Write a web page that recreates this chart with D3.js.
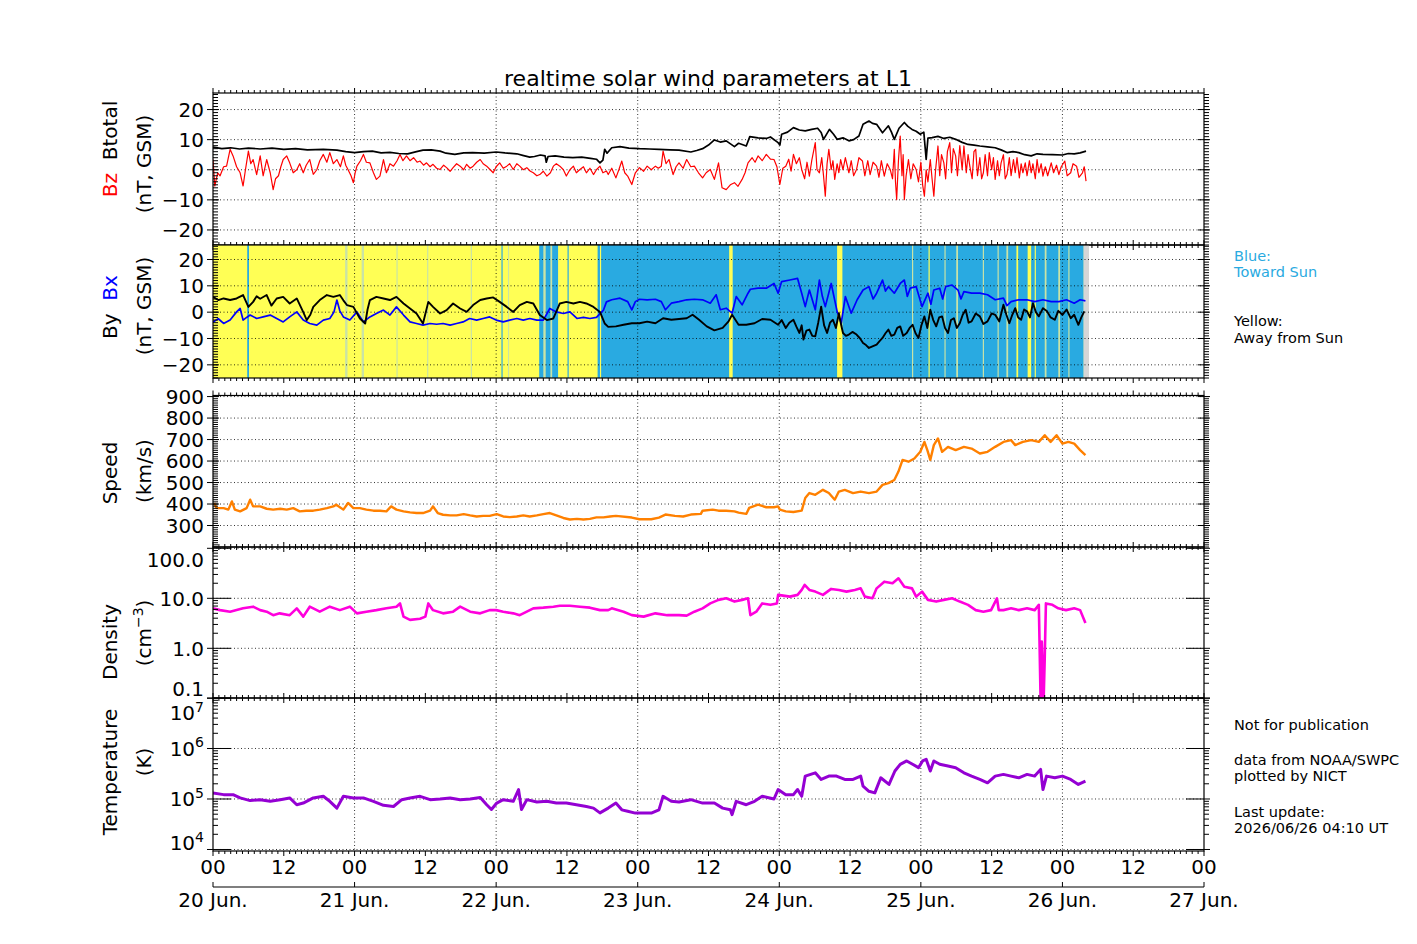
<!DOCTYPE html>
<html>
<head>
<meta charset="utf-8">
<script src="https://cdn.jsdelivr.net/npm/d3@7"></script>
<style>
  body { margin: 0; background: #fff; }
  text { font-family: "DejaVu Sans", sans-serif; }
</style>
</head>
<body>
<svg id="chart" width="1417" height="944"></svg>
<script>
// time of each sample is in hours after 2026-06-20 00:00 UT
var btotal = [[0,7.5],[1.5,7.0],[3,7.3],[4.5,6.9],[6,7.2],[8,6.9],[10,7.2],[12,6.8],[14,7.0],[16,6.6],[18.7,6.8],[21,6.5],[22.5,6.0],[24,5.7],[25.5,6.0],[27,6.2],[28.5,5.6],[30,5.8],[31.5,5.4],[33,5.3],[34.5,6.0],[35.6,6.5],[37,6.6],[38.5,6.2],[39.5,5.5],[41,5.1],[42.5,5.6],[44,5.7],[46,5.5],[48,5.9],[49.5,5.6],[51.5,5.3],[52.5,4.8],[53.7,4.2],[54.5,4.4],[55.5,4.9],[56.3,4.6],[56.5,2.5],[56.8,4.4],[58,4.6],[59.5,4.2],[61,4.0],[62.5,4.2],[64,3.8],[65,3.5],[65.6,2.3],[66.1,3.2],[66.4,6.8],[66.8,5.5],[67.6,7.3],[69,7.7],[70.5,7.2],[72.3,7.0],[74,6.9],[75.6,6.8],[77.5,6.6],[79,6.5],[81,5.9],[82,6.4],[83,7.0],[84,8.2],[85,9.9],[86,9.2],[87,9.6],[88.4,7.7],[89.1,8.8],[89.7,8.4],[90.4,7.9],[91,11],[92.4,10.6],[93.8,10.4],[94.5,10.9],[95.8,9],[96.1,8.2],[96.4,11.8],[97.4,12.5],[98.4,14],[99.4,13.2],[100.4,12.9],[101.5,13.4],[102.5,13.8],[103.1,12.4],[103.5,10.1],[104.5,13.4],[105.2,11.8],[105.8,10.1],[106.8,10.6],[107.8,9.6],[108.6,10.0],[109.5,11.2],[110.2,15.1],[111.2,16.2],[111.8,15.4],[112.5,15.1],[113.5,12.3],[114.5,14.6],[115,12.6],[115.5,10.1],[116.3,13.8],[117.2,15.7],[117.8,14.4],[118.5,13.4],[119.2,12.8],[119.9,11.8],[120.5,12.5],[120.9,3.4],[121.2,10.5],[121.9,10.7],[122.9,11.1],[123.9,10.4],[124.9,10.8],[125.9,10.1],[127,9.1],[128,8.4],[129,8.2],[130,7.9],[131.3,7.6],[132.6,7.3],[133.6,6.6],[134.6,5.7],[135.6,6.0],[136.6,5.7],[137.6,5.0],[138.7,4.6],[139.7,5.3],[140.7,5.1],[142.3,5.0],[144,4.9],[145,5.4],[146,5.3],[147,5.6],[148,6.2]];

var bz = [[0,3.4],[0.3,-5.4],[0.8,-1],[1.2,-2],[1.8,1],[2.3,1.2],[2.9,6.8],[3.4,4.6],[4,1],[4.6,-1],[5.1,-5.4],[5.5,0],[6,6.2],[6.4,2],[6.8,3.4],[7.4,-1.6],[8,4.6],[8.5,-2],[9.1,3.4],[9.7,-1],[10.2,-6.6],[10.6,-3],[11.1,-2],[11.5,1],[11.9,3.4],[12.5,4.6],[13,2.3],[13.6,-1],[14.2,0],[14.7,2],[15.3,-1],[15.8,1.5],[16.4,3.4],[17,-1.5],[17.6,0],[18.1,3],[18.7,5.1],[19.3,2.5],[19.8,5.7],[20.4,2],[21,3.4],[21.6,1],[22.1,4.6],[22.5,1.5],[22.9,0],[23.4,-2],[23.8,-4.3],[24.1,-1],[24.4,1.2],[25,3],[25.5,5.1],[26,2.5],[26.6,2.3],[27.2,-1],[27.7,-3.2],[28.3,-2.1],[28.9,3.4],[29.4,-1],[30,2],[30.6,1.2],[31.2,3],[31.7,5.1],[32.2,3],[32.8,4.6],[33.4,3],[34,4],[34.6,2.5],[35.1,2.9],[35.7,1.5],[36.2,2.3],[36.8,1],[37.3,1.8],[37.9,0.5],[38.5,0.1],[39.1,1.5],[39.6,0.7],[40.2,-0.5],[40.7,0.7],[41.3,2],[41.9,1.2],[42.5,0],[43,1.8],[43.6,0.5],[44.1,1.2],[44.7,2.5],[45.3,3.4],[45.8,2],[46.4,1.2],[47,0],[47.5,-1],[48,1],[48.6,2.3],[49.2,0.5],[49.8,1.2],[50.3,2],[50.9,0.1],[51.5,2],[52,1.2],[52.6,0],[53.2,0.7],[53.8,-0.5],[54.3,-1],[54.9,-2],[55.4,-1.6],[56,-0.5],[56.6,-2.1],[57.2,-1],[57.7,1.2],[58.2,2],[58.8,1.2],[59.4,0],[59.9,-2.1],[60.5,0],[61.1,1.2],[61.6,-1],[62.2,0.1],[62.8,1],[63.3,-1],[63.9,0.5],[64.5,-1.6],[65,0],[65.6,1.2],[66.1,-1],[66.7,-0.4],[67,-1.6],[67.6,0.5],[68.3,-2.7],[68.8,0],[69.3,2.9],[69.8,-1],[70.3,-2.1],[71,-4.9],[71.6,-1],[72.3,0.7],[73,-0.5],[73.6,1.2],[74.3,0],[75,1.2],[75.5,0.5],[76,1.2],[76.3,6.2],[76.8,2],[77.3,3.4],[78,-1.6],[78.5,1],[79,2.3],[79.7,0.5],[80.3,3.4],[81,1],[81.6,1.2],[82.3,-1],[83,-2.7],[83.6,-1],[84.3,0.1],[85,-3.2],[85.7,2.3],[86.3,-6],[87,-6.6],[87.7,-5],[88.4,-4.3],[89,-5.5],[89.7,-3.2],[90.2,-1],[90.7,2.3],[91.4,4],[91.9,2.5],[92.4,4.6],[93.1,3],[93.8,5.1],[94.5,3.5],[95.1,3.4],[95.6,1],[96.1,-4.9],[96.6,0.5],[97.1,1.2],[97.6,3.5],[98,-0.5],[98.4,5.1],[98.9,2],[99.4,4],[99.8,0.1],[100.3,-3],[100.7,2.5],[101.1,-2.1],[101.5,3],[102.1,9],[102.4,0],[102.8,-1],[103.2,4],[103.5,-2],[103.8,-8.8],[104.1,2],[104.4,6.8],[104.8,0],[105.1,3],[105.4,-3.2],[105.8,2],[106.1,-1],[106.4,3.4],[106.8,0],[107.2,4],[107.8,-1],[108.2,3],[108.6,-2],[109.1,0.1],[109.5,4],[110.1,2.9],[110.5,-2],[111,3],[111.4,-1.6],[111.9,2.5],[112.5,1.2],[112.9,-2.5],[113.3,3],[113.8,-2.1],[114.3,2],[114.8,0.1],[115.2,-3],[115.5,6.8],[115.7,-4],[115.9,-9.9],[116.2,3],[116.5,11.2],[116.8,-2],[117,5],[117.2,-9.9],[117.5,-2],[117.9,3.4],[118.3,-3],[118.7,2],[119.2,0.1],[119.6,-4],[120,2.5],[120.3,-5],[120.6,-8.8],[120.9,0],[121.2,-4],[121.6,3.4],[121.9,-3],[122.2,-8.8],[122.5,0],[122.9,7.9],[123.2,-2],[123.5,5],[123.9,2.3],[124.2,-3],[124.5,6],[124.9,9],[125.2,-1],[125.5,7],[125.9,4.6],[126.2,-2],[126.6,8],[127,0],[127.3,7.9],[127.7,-1],[128,5],[128.3,1.2],[128.7,-3],[129,6],[129.3,6.8],[129.6,-2],[130,4],[130.3,-3],[130.6,-1],[130.9,5],[131.3,-2],[131.6,5.7],[132,0],[132.3,4],[132.6,-3.2],[133,3],[133.3,-2],[133.6,2.3],[134,5],[134.3,-3],[134.6,-1.6],[135,4],[135.3,-2],[135.7,3.4],[136,-1],[136.3,4],[136.7,-2.7],[137,2],[137.3,-1],[137.7,2.3],[138,-2],[138.4,3],[138.7,-1],[139,2],[139.4,-3],[139.7,3.4],[140,-1],[140.4,2],[140.7,-2.1],[141.1,1],[141.5,-2],[142.1,2.3],[142.5,-1],[143,1.5],[143.4,-1.6],[143.8,1],[144.4,2.9],[144.8,-2],[145.4,-1],[145.8,2],[146.4,1.2],[146.8,-2.5],[147.4,-1],[147.7,1],[148,-3.8]];

var by = [[0,5.8],[0.9,4.6],[1.8,5.2],[2.9,4.6],[4,5.2],[5.1,6.5],[6,2],[6.8,3.9],[7.4,6],[8,5.1],[9.1,6.5],[9.9,2.5],[10.8,5.2],[11.9,5.8],[13,3.3],[14.2,5.2],[15.3,0],[15.9,-3],[16.5,-1],[17,2],[18.1,4.6],[19.3,6.5],[20.4,5.8],[21.5,6.5],[22.1,4.5],[22.7,2.7],[23.8,2],[24.9,-2.4],[25.8,-4.3],[26.2,1],[26.6,4.6],[27.7,5.8],[28.9,5.2],[30,4.6],[31.1,5.8],[32.3,3.3],[33.4,1.4],[34.5,-0.5],[35.6,-4.3],[36.5,3.9],[37.3,2],[38.5,-0.5],[39.6,0.8],[40.7,3.3],[41.9,1.4],[43,0.1],[44.1,2.7],[45.3,4.6],[46.4,5.2],[47.5,5.6],[48.6,3.9],[49.8,2],[50.9,0.1],[52,2.7],[53.2,3.9],[54.3,3.3],[55.4,-1.1],[56.6,-3],[57.7,-2.4],[58.8,3.3],[59.9,3.9],[61.1,3.3],[62.2,3.9],[63.3,3.3],[64.5,2],[65.6,0.1],[66.4,-4.3],[67,-5.6],[68.3,-5.4],[69.6,-4.8],[71,-4.2],[72.3,-4.2],[73.6,-3.6],[75,-4.2],[76.3,-2.3],[77.7,-2.9],[79,-2.6],[80.3,-2.3],[81.3,-1],[82.4,-2.9],[83.7,-5.4],[85,-6.9],[86.4,-6],[87.4,-3.5],[88,-1],[89.1,-4.8],[90.4,-4.8],[91.8,-4.2],[93.1,-2.6],[94.5,-2.9],[95.8,-4.8],[96.4,-3],[97.1,-6],[97.7,-4],[98.4,-2.9],[98.9,-5.5],[99.4,-7.9],[99.8,-5],[100.1,-10.4],[100.6,-7],[101.1,-6.6],[101.6,-9],[102.1,-9.2],[102.6,-4],[103.1,2.1],[103.6,-5],[104.1,-7.9],[104.6,-4],[105.1,-2.9],[105.6,-6],[106.1,-0.4],[106.5,-5],[106.8,-7.9],[107.3,-9],[107.8,-8.5],[108.4,-7.5],[109.1,-8.5],[109.7,-10],[110.2,-11.7],[110.7,-12.5],[111.2,-13.6],[111.8,-13],[112.5,-12.3],[113,-11],[113.5,-9.8],[114,-8],[114.5,-6.6],[115,-9],[115.5,-8.5],[116,-6],[116.5,-5.4],[117,-9],[117.6,-7.9],[118.1,-6],[118.6,-4.8],[119.1,-8],[119.6,-9.8],[120.1,-5],[120.6,-1.6],[121.1,-6],[121.6,0.9],[122.1,-3],[122.6,-5.4],[123.1,-2],[123.6,-1.6],[124.1,-6],[124.6,-7.9],[125.1,-3],[125.6,-2.3],[126.1,-6],[126.6,-4.2],[127.1,-1],[127.6,0.9],[128.1,-4],[128.6,-3.5],[129.3,-0.5],[130,-1.6],[130.6,-4.5],[131.3,-3.5],[132,-0.5],[132.6,-1],[133.3,-3.5],[134,2.8],[134.5,-1],[135,-4.2],[135.5,-1],[136,1.5],[136.5,-2],[137,-2.9],[137.5,1],[138,0.3],[138.5,-2],[139,3.4],[139.5,0],[140,-1.6],[140.7,1.5],[141.4,0.3],[142,-2],[142.7,-2.9],[143.3,0.5],[144,-1],[144.7,1],[145.4,-2.3],[146,-1],[146.7,-4.8],[147.2,-2],[147.7,0.3]];

var bx = [[0,-3.7],[0.9,-2.5],[1.8,-4.3],[2.9,-3],[4,0.1],[4.6,1.4],[5.1,-3],[5.7,-2],[6.3,-1.1],[7.4,-2.4],[8.5,-1.8],[9.7,-1.1],[10.8,-2.4],[11.9,-3.7],[13,-1.8],[14.2,0.1],[15.3,-3],[16.4,-4.3],[17.6,-4.9],[18.7,-3],[19.8,-2.4],[20.5,0],[21,4.6],[21.5,0.5],[22.1,-1.8],[23.2,-3],[24.4,0.1],[25.5,-3.7],[26.6,-1.8],[27.7,-0.5],[28.9,0.8],[30,-1.1],[31.1,2],[32.3,-1.1],[33.4,-3.7],[34.5,-4.3],[35.6,-4.9],[36.8,-4.3],[37.9,-4.6],[39,-4.3],[40.2,-4.9],[41.3,-4.3],[42.4,-3.7],[43.5,-2.4],[44.7,-3],[45.8,-2.4],[46.9,-1.8],[48,-3],[49.2,-3.7],[50.3,-3],[51.5,-2.4],[52.6,-3],[53.7,-2.4],[54.9,-3],[56,-3],[57.1,1.4],[58.2,0.1],[59.4,-0.5],[60.5,0.1],[61.7,-2.4],[62.8,-2],[63.9,-2.4],[65,-2],[66.2,0.8],[66.7,3.9],[67.6,4.7],[69,5.3],[70.3,4],[71,0.9],[71.6,4],[72.3,4.9],[73.6,4.7],[75,4.9],[76,4],[76.7,0.9],[77.7,3.4],[79,4],[80.3,4.7],[81.6,4.9],[83,4.7],[84.3,3.4],[85.3,6.6],[86,0.9],[87,1.5],[88,-0.4],[88.7,5.9],[89.7,2.8],[90.7,7.2],[91.1,8.7],[92.4,9.1],[93.8,9.1],[95.1,10.9],[95.8,7.2],[96.4,11.6],[97.8,12.2],[99.1,12.8],[99.8,7.2],[100.4,2.1],[101.1,8.4],[102.1,0.9],[102.8,12.2],[103.3,6],[103.8,2.1],[104.8,10.9],[105.8,0.3],[106.5,-4.2],[107.2,5.9],[108.2,-0.4],[109.2,4.7],[110.2,8.4],[111.2,9.7],[111.9,5],[112.5,7.2],[113.5,12.2],[114,8],[114.5,9.7],[115.5,7.2],[116.5,10.9],[117.2,12.2],[117.7,6],[118.2,9.1],[119.2,9.7],[120.2,2.1],[121.2,7.2],[121.7,3],[122.2,8.4],[123.2,9.1],[123.7,5],[124.2,9.7],[125.3,10.3],[126.3,8.4],[126.8,5],[127.3,7.8],[128.6,7.2],[130,7.2],[131.3,6.6],[132.6,4.7],[134,5.3],[134.6,2.5],[135.3,4],[136.6,4.7],[138,4.7],[139.3,4],[140.7,4.7],[142.1,4],[143.4,4],[144.7,4.7],[146,3.4],[147,4.7],[147.9,4.3]];

var speed = [[0.2,405],[0.6,381],[1.8,381],[2.6,374],[3.2,412],[3.7,374],[4.6,366],[5.7,381],[6.3,420],[6.8,389],[8,389],[9.1,378],[10.2,374],[11.4,378],[12.5,374],[13.6,381],[14.7,366],[15.8,369],[17,369],[18.1,374],[19.3,381],[20.4,389],[20.9,397],[22.1,374],[22.9,405],[23.8,381],[24.9,381],[26,374],[27.2,369],[28.3,369],[29.4,366],[30.2,389],[31.1,374],[32.3,366],[33.4,361],[34.5,358],[35.6,358],[36.8,369],[37.3,389],[38.1,358],[39,350],[40.2,347],[41.3,347],[42.5,353],[43.6,347],[44.7,342],[45.8,345],[46.9,345],[48.1,353],[49.2,342],[50.3,339],[51.5,342],[52.6,347],[53.7,342],[54.9,347],[56,353],[57.1,358],[58.2,347],[59.4,335],[60.5,328],[61.7,331],[62.8,328],[63.9,331],[65,338],[66.2,338],[67.3,342],[68.3,345],[71,337],[72.3,329],[74.3,329],[75.6,337],[76.7,351],[78.3,345],[79.7,342],[81,351],[82.7,354],[83,369],[84.7,374],[85.7,369],[87,369],[88.4,366],[89.1,360],[90.4,354],[90.9,382],[92.4,397],[93.8,385],[95.1,385],[95.8,389],[96.1,374],[97.1,366],[98.4,363],[99.8,369],[100.4,428],[101.1,451],[102.1,443],[103.4,466],[104.4,451],[105.4,420],[106.1,458],[107.1,466],[108.5,451],[109.8,458],[111.2,451],[112.5,458],[113.5,489],[114.5,497],[115.5,512],[116.2,551],[116.9,605],[117.9,597],[118.9,612],[119.9,643],[120.6,689],[121.1,651],[121.6,605],[122.2,674],[122.9,705],[123.6,643],[124.6,666],[125.9,651],[127.3,666],[128.6,658],[130,635],[131.3,643],[132.6,666],[134,689],[135.3,697],[136,674],[137.3,689],[138.7,697],[140,689],[141,720],[142,689],[143,720],[144,681],[145,689],[146,681],[147,651],[147.9,628]];

var density = [[0,6.3],[1.2,5.8],[2.9,5.4],[5.1,6.3],[6.8,6.8],[8,5.8],[9.1,5.4],[10.2,4.6],[11.3,5],[13,4.6],[14.2,6.3],[15.3,4.3],[16.4,6.8],[18.1,5.4],[19.8,6.8],[21.5,5.8],[23.2,6.8],[24.4,5],[26,5.4],[27.7,5.8],[29.4,6.3],[31.1,6.8],[31.7,7.9],[32.3,4.3],[33.4,3.7],[35.1,3.9],[36,4.3],[36.5,7.9],[37.3,5.8],[39,5],[40.7,5.4],[41.9,6.8],[43.6,5.4],[45.3,5],[46.9,5.8],[48,5.8],[49.2,5.4],[50.9,5],[52,4.6],[53.2,5.4],[54.3,6.3],[56,6.5],[57.7,6.8],[58.8,7.1],[60.5,7.1],[62.2,6.8],[63.9,6.5],[65.6,5.8],[67,5.8],[67.6,6.3],[69.6,5.4],[71,4.6],[73,4.3],[75,5],[77,4.6],[79,4.6],[80.3,4.5],[81.6,5.4],[83,6.3],[84.3,7.9],[85.7,9.3],[87,10],[88.4,8.6],[89.7,9.3],[90.7,10],[91.1,4.6],[92.1,5.4],[93.1,7.9],[94.5,7.4],[95.6,7.9],[95.8,11.7],[97.8,10.8],[99.1,11.7],[99.8,14.7],[100.3,18.5],[101.1,14.7],[102.1,13.6],[103.4,11.7],[104.8,15.4],[106.1,14.7],[107.4,13.6],[108.8,14.7],[109.8,15.8],[110.5,10.8],[111.8,10],[112.5,15.8],[113.8,21.5],[115.2,20],[116.2,25.1],[117.2,17.1],[118.5,15.8],[119.2,10.8],[120.2,13.6],[121.2,9.3],[122.6,8.6],[123.9,9.3],[125.3,10],[126.6,8.6],[128,7.4],[129.3,5.8],[130.6,5.4],[131.9,5.8],[132.9,10],[133.2,5.8],[134,5.8],[135.3,6.3],[136.6,5.8],[138,6.3],[139.3,5.8],[140,7.4],[140.3,0.09],[140.5,1.36],[140.8,0.08],[141,0.63],[141.2,7.9],[142.3,7.4],[143.3,6.3],[144.6,5.8],[146,6.3],[147,5.8],[147.9,3.2]];

var temperature = [[0,1.31e5],[1.8,1.22e5],[3.4,1.22e5],[4.6,1.05e5],[6.3,9.3e4],[8,9.7e4],[9.7,9.0e4],[11.4,9.7e4],[13,1.05e5],[14.2,7.7e4],[15.3,8.3e4],[17,1.05e5],[18.7,1.13e5],[19.8,9.0e4],[21,6.6e4],[22.1,1.13e5],[23.8,1.05e5],[25.5,1.05e5],[27.2,9.0e4],[28.9,7.5e4],[30.6,7.1e4],[32,9.7e4],[33.4,1.05e5],[35.1,1.13e5],[36.8,9.7e4],[38.5,1.0e5],[40.2,1.05e5],[41.9,9.7e4],[43.6,1.0e5],[45.3,1.07e5],[46.4,7.7e4],[47.2,6.2e4],[48.1,8.3e4],[49.2,9.7e4],[50.9,9.0e4],[51.8,1.53e5],[52.3,6.2e4],[53.2,9.7e4],[54.9,8.7e4],[56.6,9.0e4],[58.2,8.3e4],[59.9,8.3e4],[61.6,7.7e4],[63.3,7.1e4],[64.5,6.6e4],[65.6,5.3e4],[67,6.6e4],[68.3,8.3e4],[69.3,6.1e4],[70.3,5.7e4],[71.6,5.25e4],[73,5.25e4],[74.3,5.25e4],[75.6,6.1e4],[76.3,1.13e5],[77.7,9.0e4],[79,8.7e4],[81,9.7e4],[83,8.3e4],[85,8.3e4],[86.4,6.6e4],[87.7,6.1e4],[88,4.9e4],[88.7,9.0e4],[90.4,7.7e4],[91.8,9.0e4],[93.1,1.13e5],[95.1,1.0e5],[95.8,1.54e5],[97.1,1.22e5],[98.4,1.22e5],[99.1,1.54e5],[99.8,1.13e5],[100.4,2.84e5],[102.1,3.3e5],[103.1,2.44e5],[104.4,2.84e5],[105.7,2.84e5],[107.1,2.44e5],[108.5,2.44e5],[109.8,2.84e5],[110.2,1.79e5],[111.2,1.42e5],[112.2,1.32e5],[113.2,2.63e5],[114.6,1.94e5],[115.6,3.58e5],[116.5,4.86e5],[117.6,5.67e5],[118.6,4.86e5],[119.6,4.17e5],[120.3,5.67e5],[120.9,6.12e5],[121.6,3.58e5],[122.2,5.67e5],[123.2,4.86e5],[124.6,4.5e5],[125.9,4.17e5],[127.3,3.3e5],[128.6,2.84e5],[130,2.44e5],[131.3,2.09e5],[132.6,2.84e5],[134,3.07e5],[135.3,2.84e5],[136.6,2.63e5],[138,3.07e5],[139.3,2.84e5],[140.3,3.86e5],[140.7,1.54e5],[141.3,2.84e5],[142.7,2.63e5],[144,2.84e5],[145.4,2.44e5],[146.7,1.94e5],[147.9,2.25e5]];

// IMF sector background, [start, end] in hours
var awaySpans = [[0, 147.6]];
var towardSpans = [[5.8,6.1],[48.9,49.1],[55.3,58.5],[60.1,60.3],[65.2,65.6],[65.8,87.5],[88.1,105.8],[106.7,121.3],[121.5,136.2],[136.5,138.1],[138.7,139.3],[139.5,147.6]];
var mixedSpans = [[22.4,22.8],[25.2,25.6],[31.1,31.3],[36.3,36.5],[43.7,43.9],[50,50.2],[56,56.4],[57.2,57.5],[118.5,118.7],[124,124.2],[126,126.3],[130.5,130.7],[133,133.2],[134.5,134.8],[141,141.3],[143.3,143.6],[145,145.2]];
var gapSpans = [[147.6,148.5]];

var dayNames = ['20 Jun.','21 Jun.','22 Jun.','23 Jun.','24 Jun.','25 Jun.','26 Jun.','27 Jun.'];
var lastUpdate = '2026/06/26 04:10 UT';

var START = Date.UTC(2026, 5, 20);
function t(h) { return new Date(START + h * 3600000); }

var svg = d3.select('#chart');
var X0 = 213, X1 = 1204;
var x = d3.scaleUtc().domain([t(0), t(168)]).range([X0, X1]);

var MINUS = '\u2212';
function fmtInt(d) { return d < 0 ? MINUS + Math.abs(d) : String(d); }

var panels = [
  { id: 'bt', top: 93, bottom: 245, y: d3.scaleLinear().domain([-25, 25.5]).range([245, 93]),
    major: [-20,-10,0,10,20], minor: d3.range(-25, 26, 1), fmt: fmtInt,
    series: [{ data: bz, color: '#ff0000', w: 1.2 }, { data: btotal, color: '#000000', w: 1.7 }] },
  { id: 'bxy', top: 245, bottom: 378, y: d3.scaleLinear().domain([-25, 25.5]).range([378, 245]),
    major: [-20,-10,0,10,20], minor: d3.range(-25, 26, 1), fmt: fmtInt, sectors: true,
    series: [{ data: bx, color: '#0000ff', w: 1.7 }, { data: by, color: '#000000', w: 1.9 }] },
  { id: 'v', top: 395.5, bottom: 547, y: d3.scaleLinear().domain([200, 905]).range([547, 395.5]),
    major: [300,400,500,600,700,800,900], minor: d3.range(200, 910, 10), fmt: String,
    series: [{ data: speed, color: '#ff8000', w: 2.4 }] },
  { id: 'n', top: 547, bottom: 698, y: d3.scaleLog().domain([0.1, 100]).range([698.3, 548.3]), log: true,
    major: [0.1, 1, 10, 100], fmt: function (d) { return d.toFixed(1); }, labTop: 13, labBottom: 9,
    series: [{ data: density, color: '#ff00dd', w: 2.6 }] },
  { id: 'T', top: 698, bottom: 851, y: d3.scaleLog().domain([Math.pow(10, 3.97), 1e7]).range([851, 698]), log: true,
    major: [1e4, 1e5, 1e6, 1e7], sup: true, labTop: 15, labBottom: 8,
    series: [{ data: temperature, color: '#9400d3', w: 3 }] }
];

function logMinor(domain) {
  var out = [];
  for (var e = -2; e <= 8; e++) {
    for (var m = 2; m <= 9; m++) {
      var v = m * Math.pow(10, e);
      if (v >= domain[0] && v <= domain[1]) out.push(v);
    }
  }
  return out;
}

var defs = svg.append('defs');
var hours = d3.range(0, 169, 1);
var days = d3.range(24, 168, 24);

panels.forEach(function (p) {
  var g = svg.append('g').attr('class', 'panel-' + p.id);
  defs.append('clipPath').attr('id', 'clip-' + p.id)
    .append('rect').attr('x', X0).attr('y', p.top).attr('width', X1 - X0).attr('height', p.bottom - p.top);

  if (p.sectors) {
    var bg = g.append('g').attr('clip-path', 'url(#clip-' + p.id + ')');
    var spanRect = function (spans, color) {
      bg.selectAll(null).data(spans).enter().append('rect')
        .attr('x', function (d) { return x(t(d[0])); })
        .attr('width', function (d) { return x(t(d[1])) - x(t(d[0])); })
        .attr('y', p.top).attr('height', p.bottom - p.top)
        .attr('fill', color);
    };
    spanRect(awaySpans, '#ffff55');
    spanRect(towardSpans, '#29aae1');
    spanRect(mixedSpans, '#c9e3a6');
    spanRect(gapSpans, '#d6d6d6');
  }

  // grid
  var grid = g.append('g').attr('stroke', '#000').attr('stroke-width', 0.8).attr('stroke-dasharray', '1,2.5');
  grid.selectAll(null).data(days).enter().append('line')
    .attr('x1', function (d) { return x(t(d)); }).attr('x2', function (d) { return x(t(d)); })
    .attr('y1', p.top).attr('y2', p.bottom);
  grid.selectAll(null).data(p.major.filter(function (d) {
      var yy = p.y(d); return yy > p.top + 1 && yy < p.bottom - 1; }))
    .enter().append('line')
    .attr('x1', X0).attr('x2', X1)
    .attr('y1', function (d) { return p.y(d); }).attr('y2', function (d) { return p.y(d); });

  // data
  var line = d3.line()
    .x(function (d) { return x(t(d[0])); })
    .y(function (d) { return p.y(d[1]); });
  var dg = g.append('g').attr('clip-path', 'url(#clip-' + p.id + ')');
  p.series.forEach(function (s) {
    dg.append('path').datum(s.data).attr('d', line)
      .attr('fill', 'none').attr('stroke', s.color).attr('stroke-width', s.w)
      .attr('stroke-linejoin', 'round');
  });

  // frame
  g.append('rect').attr('x', X0).attr('y', p.top).attr('width', X1 - X0).attr('height', p.bottom - p.top)
    .attr('fill', 'none').attr('stroke', '#000').attr('stroke-width', 1.2);

  // x ticks top and bottom
  var tk = g.append('g').attr('stroke', '#000').attr('stroke-width', 1);
  tk.selectAll(null).data(hours).enter().append('line')
    .attr('x1', function (d) { return x(t(d)); }).attr('x2', function (d) { return x(t(d)); })
    .attr('y1', p.top).attr('y2', function (d) { return p.top - (d % 12 === 0 ? 5 : 3); });
  tk.selectAll(null).data(hours).enter().append('line')
    .attr('x1', function (d) { return x(t(d)); }).attr('x2', function (d) { return x(t(d)); })
    .attr('y1', p.bottom).attr('y2', function (d) { return p.bottom + (d % 12 === 0 ? 5 : 3); });

  // y ticks
  var minor = p.log ? logMinor(p.y.domain()) : p.minor;
  tk.selectAll(null).data(minor).enter().append('line')
    .attr('x1', X0).attr('x2', X0 + 5)
    .attr('y1', function (d) { return p.y(d); }).attr('y2', function (d) { return p.y(d); });
  tk.selectAll(null).data(minor).enter().append('line')
    .attr('x1', X1).attr('x2', X1 + 5)
    .attr('y1', function (d) { return p.y(d); }).attr('y2', function (d) { return p.y(d); });
  tk.selectAll(null).data(p.major).enter().append('line')
    .attr('x1', X0 - 6).attr('x2', X0 + (p.log ? 18 : 6))
    .attr('y1', function (d) { return p.y(d); }).attr('y2', function (d) { return p.y(d); });
  tk.selectAll(null).data(p.major).enter().append('line')
    .attr('x1', X1 - (p.log ? 18 : 6)).attr('x2', X1 + 6)
    .attr('y1', function (d) { return p.y(d); }).attr('y2', function (d) { return p.y(d); });

  // y tick labels
  var lab = g.append('g').attr('font-size', 20).attr('text-anchor', 'end');
  p.major.forEach(function (d) {
    var yy = p.y(d);
    if (p.log) yy = Math.min(Math.max(yy, p.top + p.labTop), p.bottom - p.labBottom);
    var tx = lab.append('text').attr('x', X0 - 9).attr('y', yy).attr('dy', '0.36em');
    if (p.sup) {
      tx.append('tspan').text('10');
      tx.append('tspan').attr('font-size', 14).attr('dy', '-0.6em').text(String(Math.round(Math.log10(d))));
    } else {
      tx.text(p.fmt(d));
    }
  });
});

// y axis titles (rotated)
function vtitle(xb, yc, parts) {
  var tx = svg.append('text').attr('transform', 'translate(' + xb + ',' + yc + ')rotate(-90)')
    .attr('text-anchor', 'middle').attr('font-size', 20);
  parts.forEach(function (pt) {
    var ts = tx.append('tspan').attr('fill', pt.c || '#000').text(pt.s);
    if (pt.sup) ts.attr('font-size', 14).attr('dy', '-0.6em');
    if (pt.after) ts.attr('dy', '0.42em');
  });
}
vtitle(117, 149, [{ s: 'Bz', c: '#ff0000' }, { s: '\u00a0\u00a0Btotal' }]);
vtitle(151, 164, [{ s: '(nT, GSM)' }]);
vtitle(117, 307, [{ s: 'By' }, { s: '\u00a0\u00a0' }, { s: 'Bx', c: '#0000ff' }]);
vtitle(151, 306, [{ s: '(nT, GSM)' }]);
vtitle(117, 473, [{ s: 'Speed' }]);
vtitle(151, 471, [{ s: '(km/s)' }]);
vtitle(117, 642, [{ s: 'Density' }]);
vtitle(151, 633, [{ s: '(cm' }, { s: MINUS + '3', sup: true }, { s: ')', after: true }]);
vtitle(117, 772, [{ s: 'Temperature' }]);
vtitle(151, 762, [{ s: '(K)' }]);

// title
svg.append('text').attr('x', 708).attr('y', 86).attr('text-anchor', 'middle')
  .attr('font-size', 22).text('realtime solar wind parameters at L1');

// bottom time labels
var bl = svg.append('g').attr('font-size', 20).attr('text-anchor', 'middle');
d3.range(0, 169, 12).forEach(function (h) {
  bl.append('text').attr('x', x(t(h))).attr('y', 874).text(d3.utcFormat('%H')(t(h)));
});
svg.append('line').attr('x1', X0).attr('x2', X1).attr('y1', 887).attr('y2', 887)
  .attr('stroke', '#000').attr('stroke-width', 1.2);
dayNames.forEach(function (nm, i) {
  var xx = x(t(i * 24));
  svg.append('line').attr('x1', xx).attr('x2', xx).attr('y1', 887).attr('y2', 882)
    .attr('stroke', '#000').attr('stroke-width', 1);
  bl.append('text').attr('x', xx).attr('y', 907).text(nm);
});

// notes on the right
var notes = svg.append('g').attr('font-size', 14.5);
function note(y, s, c) { notes.append('text').attr('x', 1234).attr('y', y).attr('fill', c || '#000').text(s); }
note(261, 'Blue:', '#29aae1');
note(277, 'Toward Sun', '#29aae1');
note(326, 'Yellow:');
note(343, 'Away from Sun');
note(730, 'Not for publication');
note(765, 'data from NOAA/SWPC');
note(781, 'plotted by NICT');
note(817, 'Last update:');
note(833, lastUpdate);
</script>
</body>
</html>
